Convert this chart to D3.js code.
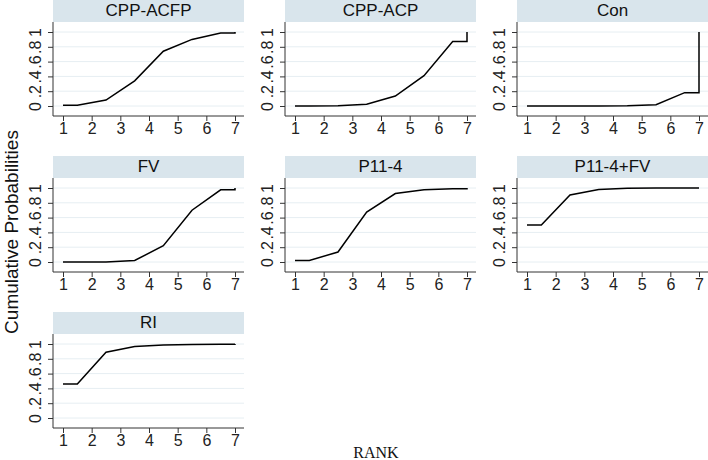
<!DOCTYPE html>
<html>
<head>
<meta charset="utf-8">
<script src="https://cdn.jsdelivr.net/npm/d3@7"></script>
<style>
  body { margin: 0; background: #fff; }
  text { font-family: "Liberation Sans", Arial, sans-serif; }
</style>
</head>
<body>
<div id="chart"></div>
<script>
// treatments, in panel order
var treatments = ["CPP-ACFP", "CPP-ACP", "Con", "FV", "P11-4", "P11-4+FV", "RI"];

// cumulative rank probabilities (rank 1..7)
var cppAcfp = [0.01, 0.08, 0.34, 0.74, 0.90, 0.985, 1];
var cppAcp  = [0.00, 0.005, 0.025, 0.135, 0.41, 0.87, 1];
var con     = [0.00, 0.00, 0.00, 0.003, 0.017, 0.18, 1];
var fv      = [0.00, 0.00, 0.02, 0.22, 0.70, 0.975, 1];
var p114    = [0.02, 0.135, 0.675, 0.925, 0.977, 0.99, 1];
var p114fv  = [0.50, 0.905, 0.98, 0.995, 0.999, 1, 1];
var ri      = [0.46, 0.89, 0.965, 0.985, 0.993, 0.997, 1];

var series = [cppAcfp, cppAcp, con, fv, p114, p114fv, ri];

var ranks = [1, 2, 3, 4, 5, 6, 7];
var yTicks = [0, 0.2, 0.4, 0.6, 0.8, 1];
var yTickLabels = ["0", ".2", ".4", ".6", ".8", "1"];

var width = 708, height = 460;

// panel geometry
var panelLeft = 53, panelStep = 232, panelW = 191;
var rowStep = 156, stripH = 22, plotH = 94;

var svg = d3.select("#chart")
    .append("svg")
    .attr("width", width)
    .attr("height", height);

// Stata-style rankogram path: half-rank steps
function rankPoints(c) {
    var pts = [[1, c[0]], [1.5, c[0]]];
    for (let i = 1; i < 6; i++) {
        pts.push([i + 1.5, c[i]]);
    }
    pts.push([7, c[5]]);
    pts.push([7, c[6]]);
    return pts;
}

treatments.forEach(function(name, k) {
    var col = k % 3, row = Math.floor(k / 3);
    var x0 = panelLeft + col * panelStep;
    var y0 = row * rowStep;

    var g = svg.append("g").attr("transform", "translate(" + x0 + "," + y0 + ")");

    var xScale = d3.scaleLinear().domain([1, 7]).range([10, 182]);
    var yScale = d3.scaleLinear().domain([0, 1]).range([stripH + 84, stripH + 10]);

    // strip title
    g.append("rect")
        .attr("x", 0).attr("y", 0)
        .attr("width", panelW).attr("height", stripH)
        .attr("fill", "#d9e5ec");
    g.append("text")
        .attr("x", panelW / 2).attr("y", 16)
        .attr("text-anchor", "middle")
        .attr("font-size", "17px")
        .attr("fill", "#111")
        .text(name);

    // grid lines
    g.selectAll(".grid")
        .data(yTicks)
        .enter()
        .append("line")
        .attr("x1", 0).attr("x2", panelW)
        .attr("y1", d => yScale(d)).attr("y2", d => yScale(d))
        .attr("stroke", "#e6eef2")
        .attr("stroke-width", 1);

    // y axis
    var yAxis = g.append("g")
        .call(d3.axisLeft(yScale).tickValues(yTicks).tickSize(5).tickSizeOuter(0)
            .tickFormat((d, i) => yTickLabels[i]));
    yAxis.select(".domain").remove();
    yAxis.append("line")
        .attr("x1", 0).attr("x2", 0)
        .attr("y1", stripH).attr("y2", stripH + plotH)
        .attr("stroke", "#333");
    yAxis.selectAll(".tick line").attr("stroke", "#333");
    yAxis.selectAll(".tick text")
        .attr("font-size", "16px")
        .attr("fill", "#222")
        .attr("x", null).attr("dy", null)
        .attr("text-anchor", "middle")
        .attr("transform", "translate(-12,0) rotate(-90)")
        .attr("y", 0);

    // x axis
    var xAxis = g.append("g")
        .attr("transform", "translate(0," + (stripH + plotH) + ")")
        .call(d3.axisBottom(xScale).tickValues(ranks).tickSize(5).tickSizeOuter(0)
            .tickFormat(d3.format("d")));
    xAxis.select(".domain").remove();
    xAxis.append("line")
        .attr("x1", 0).attr("x2", panelW)
        .attr("y1", 0).attr("y2", 0)
        .attr("stroke", "#333");
    xAxis.selectAll(".tick line").attr("stroke", "#333");
    xAxis.selectAll(".tick text")
        .attr("font-size", "16px")
        .attr("fill", "#222")
        .attr("y", 7);

    // curve
    var line = d3.line()
        .x(d => xScale(d[0]))
        .y(d => yScale(d[1]));
    g.append("path")
        .datum(rankPoints(series[k]))
        .attr("d", line)
        .attr("fill", "none")
        .attr("stroke", "#000")
        .attr("stroke-width", 1.5);
});

// axis titles
svg.append("text")
    .attr("transform", "translate(18,232) rotate(-90)")
    .attr("text-anchor", "middle")
    .attr("font-size", "19px")
    .attr("fill", "#111")
    .text("Cumulative Probabilities");

svg.append("text")
    .attr("x", 376).attr("y", 458)
    .attr("text-anchor", "middle")
    .attr("font-size", "16px")
    .attr("fill", "#111")
    .style("font-family", "'Liberation Serif', 'Times New Roman', serif")
    .text("RANK");
</script>
</body>
</html>
